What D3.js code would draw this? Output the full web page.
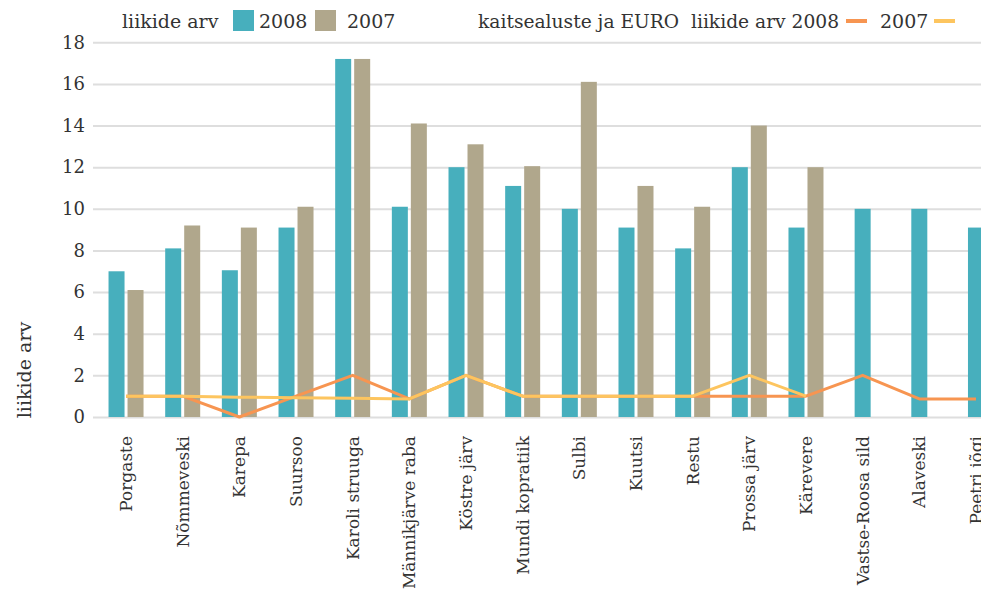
<!DOCTYPE html>
<html>
<head>
<meta charset="utf-8">
<script src="https://cdn.jsdelivr.net/npm/d3@7"></script>
<style>
  html, body { margin: 0; padding: 0; background: #fff; }
  svg { display: block; }
  text { font-family: "DejaVu Serif", "Liberation Serif", serif; fill: #333; }
</style>
</head>
<body>
<svg id="chart" width="981" height="592"></svg>
<script>
// Sites
const categories = ["Porgaste", "Nõmmeveski", "Karepa", "Suursoo", "Karoli struuga",
  "Männikjärve raba", "Köstre järv", "Mundi kopratiik", "Sulbi", "Kuutsi", "Restu",
  "Prossa järv", "Kärevere", "Vastse-Roosa sild", "Alaveski", "Peetri jõgi"];

// Species count (bars)
const species2008 = [7.0, 8.1, 7.05, 9.1, 17.2, 10.1, 12.0, 11.1, 10.0, 9.1, 8.1, 12.0, 9.1, 10.0, 10.0, 9.1];
const species2007 = [6.1, 9.2, 9.1, 10.1, 17.2, 14.1, 13.1, 12.05, 16.1, 11.1, 10.1, 14.0, 12.0, null, null, null];

// Protected and EU-listed species count (lines)
const protected2008 = [1, 1, 0, 1, 2, 0.87, 2, 1, 1, 1, 1, 1, 1, 2, 0.87, 0.87];
const protected2007 = [1, 1, 0.95, 0.93, 0.9, 0.87, 2, 1, 1, 1, 1, 2, 1, null, null, null];

const yTicks = [0, 2, 4, 6, 8, 10, 12, 14, 16, 18];

const colors = {
  bar2008: "#47afbd",
  bar2007: "#b0a78c",
  line2008: "#f79551",
  line2007: "#fdc55f"
};

const W = 981, H = 592;
const svg = d3.select("#chart");

const x = d3.scaleBand().domain(categories).range([97.7, 1004.3]).padding(0);
const y = d3.scaleLinear().domain([0, 18]).range([417, 42.3]);

// Horizontal gridlines with value labels
const yAxis = d3.axisLeft(y).tickValues(yTicks).tickSize(-(W - 93)).tickPadding(8);
const gy = svg.append("g").attr("transform", "translate(93,0)").call(yAxis);
gy.select(".domain").remove();
gy.selectAll(".tick line").attr("stroke", "#dedede").attr("stroke-width", 2);
gy.selectAll(".tick text").style("font-size", "18px").attr("fill", "#333");

// Category labels, rotated
const xAxis = d3.axisBottom(x).tickSize(0).tickPadding(0);
const gx = svg.append("g").attr("transform", "translate(0,420)").call(xAxis);
gx.select(".domain").remove();
gx.selectAll(".tick text")
  .style("font-size", "17px")
  .attr("fill", "#333")
  .attr("text-anchor", "end")
  .attr("transform", "rotate(-90)")
  .attr("x", -16)
  .attr("y", 0)
  .attr("dy", "0.35em");

// Bars
const barW = 16, gap = 3;
const barData = [];
categories.forEach((c, i) => {
  const a = species2008[i], b = species2007[i];
  const cx = x(c) + x.bandwidth() / 2;
  if (a != null && b != null) {
    barData.push({ x: cx - gap / 2 - barW, v: a, color: colors.bar2008 });
    barData.push({ x: cx + gap / 2, v: b, color: colors.bar2007 });
  } else {
    if (a != null) barData.push({ x: cx - barW / 2, v: a, color: colors.bar2008 });
    if (b != null) barData.push({ x: cx - barW / 2, v: b, color: colors.bar2007 });
  }
});
svg.append("g").selectAll("rect").data(barData).join("rect")
  .attr("x", d => d.x)
  .attr("y", d => y(d.v))
  .attr("width", barW)
  .attr("height", d => y(0) - y(d.v))
  .attr("fill", d => d.color);

// Lines
const line = d3.line()
  .defined(d => d.v != null)
  .x(d => x(d.c) + x.bandwidth() / 2)
  .y(d => y(d.v));

[[protected2008, colors.line2008], [protected2007, colors.line2007]].forEach(([vals, col]) => {
  svg.append("path")
    .datum(categories.map((c, i) => ({ c, v: vals[i] })))
    .attr("d", line)
    .attr("fill", "none")
    .attr("stroke", col)
    .attr("stroke-width", 3)
    .attr("stroke-linejoin", "round");
});

// Y axis title
svg.append("text")
  .attr("transform", "translate(24,370) rotate(-90)")
  .attr("text-anchor", "middle")
  .attr("dy", "0.35em")
  .style("font-size", "19px")
  .text("liikide arv");

// Legend
const lg = svg.append("g").style("font-size", "19px");
lg.append("text").attr("x", 122).attr("y", 28).text("liikide arv");
lg.append("rect").attr("x", 233).attr("y", 10).attr("width", 21).attr("height", 21).attr("fill", colors.bar2008);
lg.append("text").attr("x", 259).attr("y", 28).text("2008");
lg.append("rect").attr("x", 315).attr("y", 10).attr("width", 21).attr("height", 21).attr("fill", colors.bar2007);
lg.append("text").attr("x", 347).attr("y", 28).text("2007");
lg.append("text").attr("x", 478).attr("y", 28).attr("xml:space", "preserve")
  .attr("textLength", 361).attr("lengthAdjust", "spacingAndGlyphs")
  .text("kaitsealuste ja EURO  liikide arv 2008");
lg.append("line").attr("x1", 846).attr("x2", 867).attr("y1", 21).attr("y2", 21)
  .attr("stroke", colors.line2008).attr("stroke-width", 4);
lg.append("text").attr("x", 880).attr("y", 28).text("2007");
lg.append("line").attr("x1", 934).attr("x2", 955).attr("y1", 21).attr("y2", 21)
  .attr("stroke", colors.line2007).attr("stroke-width", 4);
</script>
</body>
</html>
